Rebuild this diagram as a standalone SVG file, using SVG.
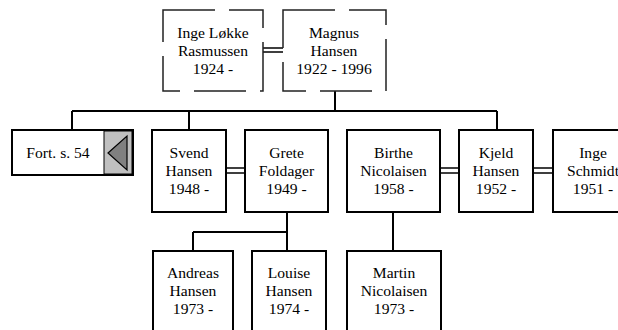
<svg xmlns="http://www.w3.org/2000/svg" width="618" height="330" viewBox="0 0 618 330">
<style>
.box{fill:#fff;stroke:#000;stroke-width:2}
.dash{fill:#fff;stroke:#222;stroke-width:1.5;stroke-dasharray:52 14}
.t{font-family:"Liberation Serif","Times New Roman",serif;font-size:15.6px;fill:#000;text-anchor:middle}
.ln{stroke:#000;stroke-width:2;fill:none}
.dbl{stroke:#000;stroke-width:1.4;fill:none}
</style>
<rect width="618" height="330" fill="#fff"/>
<g id="connectors">
<path class="ln" d="M335,91V111M72,111H497M72,111V130M189,111V130M497,111V130"/>
<path class="ln" d="M287,212V232M193,232H287M193,232V251M287,232V251M393,212V251"/>
<path class="dbl" stroke="#444" d="M263,48H283M263,52H283"/>
<path class="dbl" d="M226,168H245M226,173H245M440,168H459M440,173H459M533,168H553M533,173H553"/>
</g>
<g id="inge-lokke">
<rect class="dash" x="163" y="10" width="100" height="81"/>
<text class="t" x="213" y="38">Inge Løkke</text>
<text class="t" x="213" y="56">Rasmussen</text>
<text class="t" x="213" y="74">1924 -</text>
</g>
<g id="magnus">
<rect class="dash" x="283" y="10" width="103" height="81"/>
<text class="t" x="334" y="38">Magnus</text>
<text class="t" x="334" y="56">Hansen</text>
<text class="t" x="334" y="74">1922 - 1996</text>
</g>
<g id="fort">
<rect class="box" x="12" y="130" width="121" height="45"/>
<rect x="104" y="131" width="28" height="43" fill="#c0c0c0" stroke="#000" stroke-width="1"/>
<polygon points="108,153 127,136 127,170" fill="#808080" stroke="#000" stroke-width="1.2"/>
<text class="t" x="58" y="158">Fort. s. 54</text>
</g>
<g id="svend">
<rect class="box" x="152" y="130" width="74" height="82"/>
<text class="t" x="189" y="158">Svend</text>
<text class="t" x="189" y="176">Hansen</text>
<text class="t" x="189" y="194">1948 -</text>
</g>
<g id="grete">
<rect class="box" x="245" y="130" width="83" height="82"/>
<text class="t" x="286.5" y="158">Grete</text>
<text class="t" x="286.5" y="176">Foldager</text>
<text class="t" x="286.5" y="194">1949 -</text>
</g>
<g id="birthe">
<rect class="box" x="347" y="130" width="93" height="82"/>
<text class="t" x="393.5" y="158">Birthe</text>
<text class="t" x="393.5" y="176">Nicolaisen</text>
<text class="t" x="393.5" y="194">1958 -</text>
</g>
<g id="kjeld">
<rect class="box" x="459" y="130" width="74" height="82"/>
<text class="t" x="496" y="158">Kjeld</text>
<text class="t" x="496" y="176">Hansen</text>
<text class="t" x="496" y="194">1952 -</text>
</g>
<g id="inge-schmidt">
<rect class="box" x="553" y="130" width="80" height="82"/>
<text class="t" x="593" y="158">Inge</text>
<text class="t" x="593" y="176">Schmidt</text>
<text class="t" x="593" y="194">1951 -</text>
</g>
<g id="andreas">
<rect class="box" x="153" y="251" width="80" height="90"/>
<text class="t" x="193" y="278">Andreas</text>
<text class="t" x="193" y="296">Hansen</text>
<text class="t" x="193" y="314">1973 -</text>
</g>
<g id="louise">
<rect class="box" x="252" y="251" width="74" height="90"/>
<text class="t" x="289" y="278">Louise</text>
<text class="t" x="289" y="296">Hansen</text>
<text class="t" x="289" y="314">1974 -</text>
</g>
<g id="martin">
<rect class="box" x="347" y="251" width="94" height="90"/>
<text class="t" x="394" y="278">Martin</text>
<text class="t" x="394" y="296">Nicolaisen</text>
<text class="t" x="394" y="314">1973 -</text>
</g>
</svg>
